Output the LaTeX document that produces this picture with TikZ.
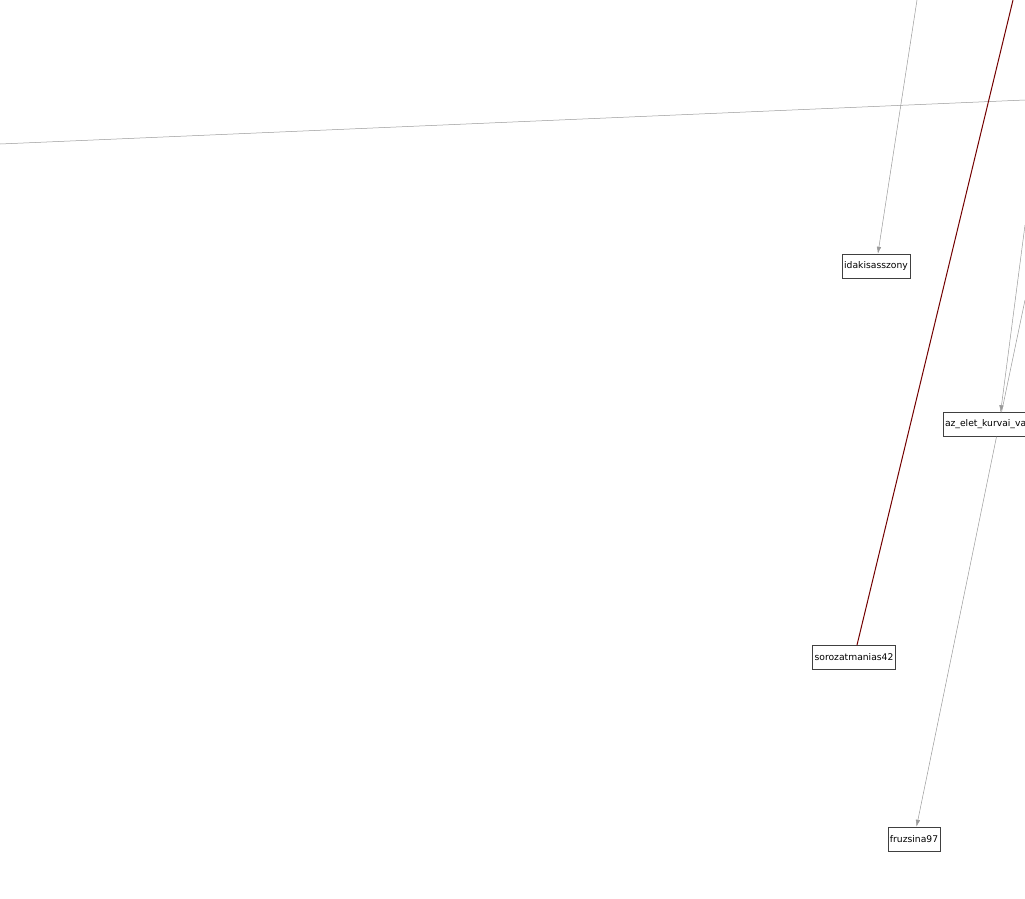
\documentclass[tikz,border=0pt]{standalone}
\usepackage{fontspec}
\setmainfont{DejaVu Sans}
\usepackage{xcolor}
\usepackage{tikz}
\usetikzlibrary{arrows.meta}

\begin{document}
\begin{tikzpicture}[x=1pt, y=-1pt, every node/.style={draw=black!75, fill=white, line width=0.5pt, inner xsep=2pt, inner ysep=0pt, minimum height=24pt, font=\fontsize{9.2}{11}\selectfont}, link/.style={draw=black!40, line width=0.5pt, -{Latex[length=7pt,width=4.5pt]}}, plainlink/.style={draw=black!40, line width=0.5pt}, redlink/.style={draw=red!45!black, line width=1pt}]
  \useasboundingbox (0,0) rectangle (1025,898);
  \node(ida) at (876,266) {idakisasszony};
  \node(soro) at (854,657.5) {sorozatmanias42};
  \node(az) at (999,424.5) [minimum width=112pt, text width=108pt, align=left] {az\_elet\_kurvai\_va};
  \node(fru) at (914,839) {fruzsina97};
  \coordinate (w) at (0,144);
  \coordinate (e) at (1025,100);
  \coordinate (topida) at (917,0);
  \coordinate (topsoro) at (1013,0);
  \coordinate (raz) at (1025,225);
  \coordinate (raz2) at (1025,300);
  \draw[plainlink] (w) -- (e);
  \draw[link] (topida) -- (ida);
  \draw[redlink] (topsoro) -- (soro);
  \draw[link] (raz) -- (az);
  \draw[plainlink] (raz2) -- (az);
  \draw[link] (az) -- (fru);
\end{tikzpicture}
\end{document}
